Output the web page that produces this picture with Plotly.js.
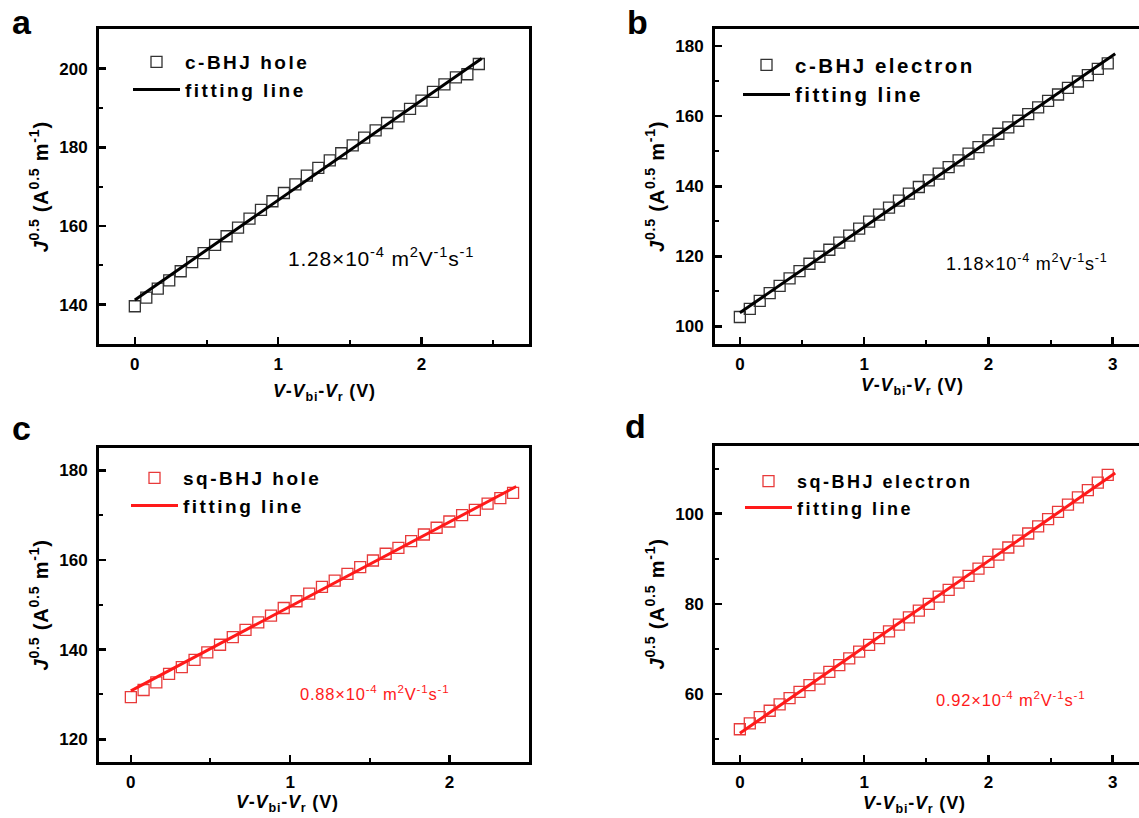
<!DOCTYPE html>
<html><head><meta charset="utf-8">
<script src="https://cdn.plot.ly/plotly-3.0.1.min.js"></script>
<style>
html,body{margin:0;padding:0;overflow:hidden;background:#fff;}
#chart{width:1160px;height:818px;}
text.legendtext, [class*="legend"] text{letter-spacing:2.5px !important;}
g.scrollbox, [class*="legend"] g{clip-path:none !important;}
text.annotation-text{letter-spacing:0.8px;}
text[class$="title"]{letter-spacing:0.8px;}
</style></head><body><div id="chart"></div>
<script>
// ---- data ----
const xShort = [0,0.08,0.16,0.24,0.32,0.40,0.48,0.56,0.64,0.72,0.80,0.88,0.96,1.04,1.12,1.20,1.28,1.36,1.44,1.52,1.60,1.68,1.76,1.84,1.92,2.00,2.08,2.16,2.24,2.32,2.40];
const xLong = [0,0.08,0.16,0.24,0.32,0.40,0.48,0.56,0.64,0.72,0.80,0.88,0.96,1.04,1.12,1.20,1.28,1.36,1.44,1.52,1.60,1.68,1.76,1.84,1.92,2.00,2.08,2.16,2.24,2.32,2.40,2.48,2.56,2.64,2.72,2.80,2.88,2.96];

const holeC = [139.6,141.8,144.1,146.2,148.5,150.8,153.1,155.2,157.4,159.6,161.9,164.1,166.3,168.4,170.6,172.8,174.8,176.7,178.5,180.5,182.5,184.3,186.2,187.9,189.8,191.9,194.1,196.0,197.8,198.6,201.2];
const elecC = [102.7,105.0,107.3,109.5,111.6,113.7,115.8,117.9,119.9,121.9,123.9,125.9,127.9,129.9,131.9,133.9,135.9,137.9,139.8,141.7,143.6,145.5,147.4,149.3,151.2,153.1,155.0,156.8,158.7,160.6,162.5,164.4,166.2,168.1,169.9,171.7,173.5,175.1];
const holeSq = [129.4,131.0,132.7,134.6,136.1,137.7,139.4,141.1,142.8,144.4,146.1,147.6,149.3,150.8,152.5,154.0,155.4,156.9,158.4,159.9,161.4,162.7,164.2,165.7,167.2,168.6,170.0,171.2,172.6,173.8,175.0];
const elecSq = [52.2,53.5,54.9,56.3,57.7,59.1,60.5,62.0,63.4,64.9,66.4,67.9,69.4,70.9,72.4,73.9,75.4,77.0,78.5,80.0,81.6,83.1,84.7,86.2,87.8,89.3,90.9,92.5,94.0,95.6,97.2,98.8,100.4,102.0,103.6,105.2,106.9,108.6];

const fitXa = [0, 2.42], fitYa = [141.2, 202.6];
const fitXb = [0, 3.02], fitYb = [103.9, 177.8];
const fitXc = [0, 2.42], fitYc = [130.8, 176.4];
const fitXd = [0, 3.02], fitYd = [51.3, 109.0];

const seriesNames = ['c-BHJ hole','c-BHJ electron','sq-BHJ hole','sq-BHJ electron'];
const fitName = 'fitting line';
const mobilityText = [
  '1.28×10<sup>-4</sup> m<sup>2</sup>V<sup>-1</sup>s<sup>-1</sup>',
  '1.18×10<sup>-4</sup> m<sup>2</sup>V<sup>-1</sup>s<sup>-1</sup>',
  '0.88×10<sup>-4</sup> m<sup>2</sup>V<sup>-1</sup>s<sup>-1</sup>',
  '0.92×10<sup>-4</sup> m<sup>2</sup>V<sup>-1</sup>s<sup>-1</sup>'
];
const panelLetters = ['a','b','c','d'];
const xTitle = '<i>V</i>-<i>V</i><sub>bi</sub>-<i>V</i><sub>r</sub> (V)';
const yTitle = '<i>J</i><sup>0.5</sup> (A<sup>0.5</sup> m<sup>-1</sup>)';

// ---- styling ----
const W = 1160, H = 818;
const FONT = 'Liberation Sans, Arial, sans-serif';
const BLACK = '#000';
const RED = '#ff1a1a';
const RED_M = '#e83a3a';
const px = v => v / W;
const py = v => 1 - v / H;

function axisBase(extra) {
  return Object.assign({
    showline: true, linewidth: 3, linecolor: BLACK, mirror: true,
    ticks: 'inside', ticklen: 7, tickwidth: 2.5, tickcolor: BLACK,
    showgrid: false, zeroline: false, automargin: false, fixedrange: true,
    tickfont: {family: FONT, size: 17, weight: 'bold', color: BLACK}
  }, extra);
}
function xAx(domain, range, anchor) {
  return axisBase({domain, range, anchor, dtick: 1, tick0: 0,
    minor: {ticks: 'inside', ticklen: 4, tickwidth: 2, tickcolor: BLACK, dtick: 0.5, showgrid: false},
    ticklabelstandoff: 3});
}
function yAx(domain, range, anchor) {
  return axisBase({domain, range, anchor, dtick: 20, tick0: 0,
    minor: {ticks: 'inside', ticklen: 4, tickwidth: 2, tickcolor: BLACK, dtick: 10, showgrid: false},
    ticklabelstandoff: 5,
    title: {text: yTitle, font: {family: FONT, size: 20, weight: 'bold', color: BLACK}, standoff: 6}});
}

function markerTrace(x, y, xa, ya, name, color, leg) {
  return {type: 'scatter', mode: 'markers', x, y, xaxis: xa, yaxis: ya, name, legend: leg,
    marker: {symbol: 'square-open', size: 11, color, line: {width: 1.3, color}}};
}
function lineTrace(x, y, xa, ya, color, leg) {
  return {type: 'scatter', mode: 'lines', x, y, xaxis: xa, yaxis: ya, name: fitName, legend: leg,
    line: {color, width: 3}};
}

const data = [
  markerTrace(xShort, holeC, 'x', 'y', seriesNames[0], '#333', 'legend'),
  lineTrace(fitXa, fitYa, 'x', 'y', BLACK, 'legend'),
  markerTrace(xLong, elecC, 'x2', 'y2', seriesNames[1], '#333', 'legend2'),
  lineTrace(fitXb, fitYb, 'x2', 'y2', BLACK, 'legend2'),
  markerTrace(xShort, holeSq, 'x3', 'y3', seriesNames[2], RED_M, 'legend3'),
  lineTrace(fitXc, fitYc, 'x3', 'y3', RED, 'legend3'),
  markerTrace(xLong, elecSq, 'x4', 'y4', seriesNames[3], RED_M, 'legend4'),
  lineTrace(fitXd, fitYd, 'x4', 'y4', RED, 'legend4')
];

function legendAt(xpx, ypx, size) {
  return {x: px(xpx), y: py(ypx), xanchor: 'left', yanchor: 'top', bgcolor: 'rgba(0,0,0,0)',
    borderwidth: 0, itemwidth: 47, tracegroupgap: 0,
    font: {family: FONT, size, weight: 'bold', color: BLACK}};
}

const annotations = [];
const letterPos = [[22, 22], [638, 22], [22, 428], [636, 426]];
panelLetters.forEach((t, i) => annotations.push({
  text: t, xref: 'paper', yref: 'paper', x: px(letterPos[i][0]), y: py(letterPos[i][1]),
  xanchor: 'center', yanchor: 'middle', showarrow: false,
  font: {family: FONT, size: 34, weight: 'bold', color: BLACK}}));
const mobPos = [['x', 'y', 1.72, 152.2, 21, BLACK], ['x2', 'y2', 2.31, 118.3, 18, BLACK],
                ['x3', 'y3', 1.53, 130.4, 16.5, RED], ['x4', 'y4', 2.18, 59.0, 16.5, RED]];
mobPos.forEach((m, i) => annotations.push({
  text: mobilityText[i], xref: m[0], yref: m[1], x: m[2], y: m[3],
  xanchor: 'center', yanchor: 'middle', showarrow: false,
  font: {family: FONT, size: m[4], color: m[5]}}));
// x-axis titles (placed where the original puts them, slightly off-centre)
const xTitlePos = [[324, 392], [912, 386], [287, 803], [914, 804]];
xTitlePos.forEach(p => annotations.push({
  text: xTitle, xref: 'paper', yref: 'paper', x: px(p[0]), y: py(p[1]),
  xanchor: 'center', yanchor: 'middle', showarrow: false,
  font: {family: FONT, size: 18, weight: 'bold', color: BLACK}}));

const layout = {
  width: W, height: H, autosize: false,
  margin: {l: 0, r: 0, t: 0, b: 0, pad: 0},
  paper_bgcolor: '#fff', plot_bgcolor: '#fff',
  showlegend: true,
  xaxis: xAx([px(99), px(529)], [-0.25, 2.75], 'y'),
  yaxis: yAx([py(344), py(29.4)], [130, 210], 'x'),
  xaxis2: xAx([px(715), px(1150)], [-0.2, 3.3], 'y2'),
  yaxis2: yAx([py(344), py(28.6)], [95, 185], 'x2'),
  xaxis3: xAx([px(99), px(529)], [-0.2, 2.5], 'y3'),
  yaxis3: yAx([py(761.7), py(448)], [115, 185], 'x3'),
  xaxis4: xAx([px(715), px(1150)], [-0.2, 3.3], 'y4'),
  yaxis4: yAx([py(761.7), py(446)], [45, 115], 'x4'),
  legend: legendAt(128, 43, 19),
  legend2: legendAt(738, 45, 20.5),
  legend3: legendAt(126, 459, 19),
  legend4: legendAt(740, 463, 18),
  annotations
};

Plotly.newPlot('chart', data, layout, {displayModeBar: false, staticPlot: true});
</script></body></html>
